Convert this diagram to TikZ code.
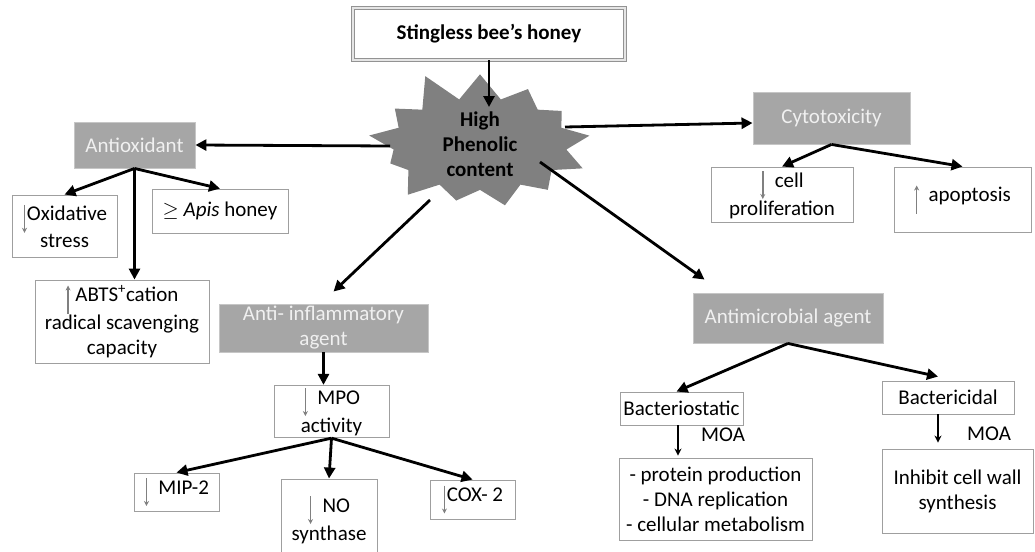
\documentclass[tikz,border=0pt]{standalone}
\usepackage{fontspec}
\setmainfont{Carlito}
\usetikzlibrary{shapes.symbols,arrows.meta}
\newcommand{\dnarr}{\tikz[baseline=0pt,x=1pt,y=1pt]\draw[gray,line width=1.5pt,-{Stealth[length=5pt,width=5pt]}] (0,16) -- (0,-12);}
\newcommand{\uparr}{\tikz[baseline=0pt,x=1pt,y=1pt]\draw[gray,line width=1.5pt,-{Stealth[length=5pt,width=5pt]}] (0,-12) -- (0,16);}
\tikzset{
    box/.style={draw=gray!75, fill=white, line width=0.9pt, inner sep=2pt, align=center, font=\fontsize{21}{25}\selectfont},
    graybox/.style={box, fill=gray!70, draw=gray!45, text=gray!12},
    link/.style={line width=2.8pt, -{Triangle[length=11pt,width=11pt]}},
    thinlink/.style={line width=1.6pt, -{Stealth[length=7pt,width=7pt]}}
}
\begin{document}
\begin{tikzpicture}[x=1pt,y=1pt]
    \useasboundingbox (0,0) rectangle (1035,-551);
    % top
    \node[box, minimum width=272pt, minimum height=52pt, draw=gray!85, double=gray!20, double distance=1.5pt, line width=1pt] (honey) at (489,-34) {\textbf{Stingless bee’s honey}};
    \node[starburst, fill=gray, starburst points=13, starburst point height=32pt, random starburst=11, minimum width=238pt, minimum height=98pt, inner sep=0pt, align=center, font=\fontsize{21}{25}\selectfont\bfseries] (burst) at (480,-144) {High\\Phenolic\\content};
    \coordinate (bT) at (489,-107);
    \coordinate (bW) at (390,-146);
    \coordinate (bE) at (565,-127);
    \coordinate (bSW) at (430,-200);
    \coordinate (bSE) at (540,-162);
    % antioxidant
    \node[graybox, minimum width=121pt, minimum height=46pt] (antiox) at (134.5,-145) {Antioxidant};
    \node[box, minimum width=105pt, minimum height=62pt] (oxid) at (64.5,-226) {\dnarr Oxidative\\stress};
    \node[box, minimum width=136pt, minimum height=44pt] (apis) at (220,-211) {$\geq$ \textit{Apis} honey};
    \node[box, minimum width=174pt, minimum height=83pt] (abts) at (122,-321.5) {\uparr\ ABTS\textsuperscript{+}cation\\radical scavenging\\capacity};
    % anti-inflammatory
    \node[graybox, minimum width=209pt, minimum height=48pt] (antiinf) at (323.5,-328) {Anti- inflammatory\\agent};
    \node[box, minimum width=115pt, minimum height=51pt] (mpo) at (331.5,-411.5) {\dnarr\ \ MPO\\activity};
    \node[box, minimum width=85pt, minimum height=38pt] (mip) at (176.5,-492) {\dnarr\ \ MIP-2};
    \node[box, minimum width=96pt, minimum height=81pt] (nos) at (329,-519.5) {\dnarr\ \ NO\\synthase};
    \node[box, minimum width=85pt, minimum height=39pt] (cox) at (472.5,-499.5) {\dnarr COX- 2};
    % cytotoxicity
    \node[graybox, minimum width=157pt, minimum height=52pt] (cyto) at (831.5,-118) {Cytotoxicity};
    \node[box, minimum width=142pt, minimum height=55pt] (prolif) at (782,-194.5) {\dnarr\ \ cell\\proliferation};
    \node[box, minimum width=137pt, minimum height=65pt] (apop) at (962.5,-199.5) {\uparr\ \ apoptosis};
    % antimicrobial
    \node[graybox, minimum width=190pt, minimum height=50pt] (antimic) at (788,-318) {Antimicrobial agent};
    \node[box, minimum width=123pt, minimum height=33pt] (bstatic) at (681.5,-408.5) {Bacteriostatic};
    \node[box, minimum width=132pt, minimum height=33pt] (bcidal) at (948,-397.5) {Bactericidal};
    \node[box, minimum width=193pt, minimum height=82pt] (prot) at (715.5,-499) {- protein production\\- DNA replication\\- cellular metabolism};
    \node[box, minimum width=151pt, minimum height=84pt] (inhib) at (957.5,-491) {Inhibit cell wall\\synthesis};
    \node[font=\fontsize{21}{25}\selectfont] (moa1) at (723,-435) {MOA};
    \node[font=\fontsize{21}{25}\selectfont] (moa2) at (989,-434) {MOA};

    \draw[link] (honey.south) -- (bT);
    \draw[link] (bW) -- (antiox.east);
    \draw[link] (bE) -- ([yshift=-5pt]cyto.west);
    \draw[link] (bSW) -- ([shift={(10pt,12pt)}]antiinf.north);
    \draw[link] (bSE) -- ([shift={(12pt,13pt)}]antimic.north west);
    \draw[link] (antiox.south) -- (oxid.north);
    \draw[link] (antiox.south) -- (apis.north);
    \draw[link] (antiox.south) -- (antiox.south |- abts.north);
    \draw[link] (antiinf.south) -- (antiinf.south |- mpo.north);
    \draw[link] (mpo.south) -- (mip.north);
    \draw[link] (mpo.south) -- (nos.north);
    \draw[link] (mpo.south) -- (cox.north);
    \draw[link] (cyto.south) -- (prolif.north);
    \draw[link] (cyto.south) -- (apop.north);
    \draw[link] (antimic.south) -- ([xshift=-5pt]bstatic.north);
    \draw[link] (antimic.south) -- ([shift={(-10pt,4pt)}]bcidal.north);
    \draw[thinlink] ([xshift=-3.5pt]bstatic.south) -- ([shift={(-3.5pt,2pt)}]bstatic.south |- prot.north);
    \draw[thinlink] ([xshift=-10pt]bcidal.south) -- ([shift={(-10pt,6pt)}]bcidal.south |- inhib.north);
\end{tikzpicture}
\end{document}
